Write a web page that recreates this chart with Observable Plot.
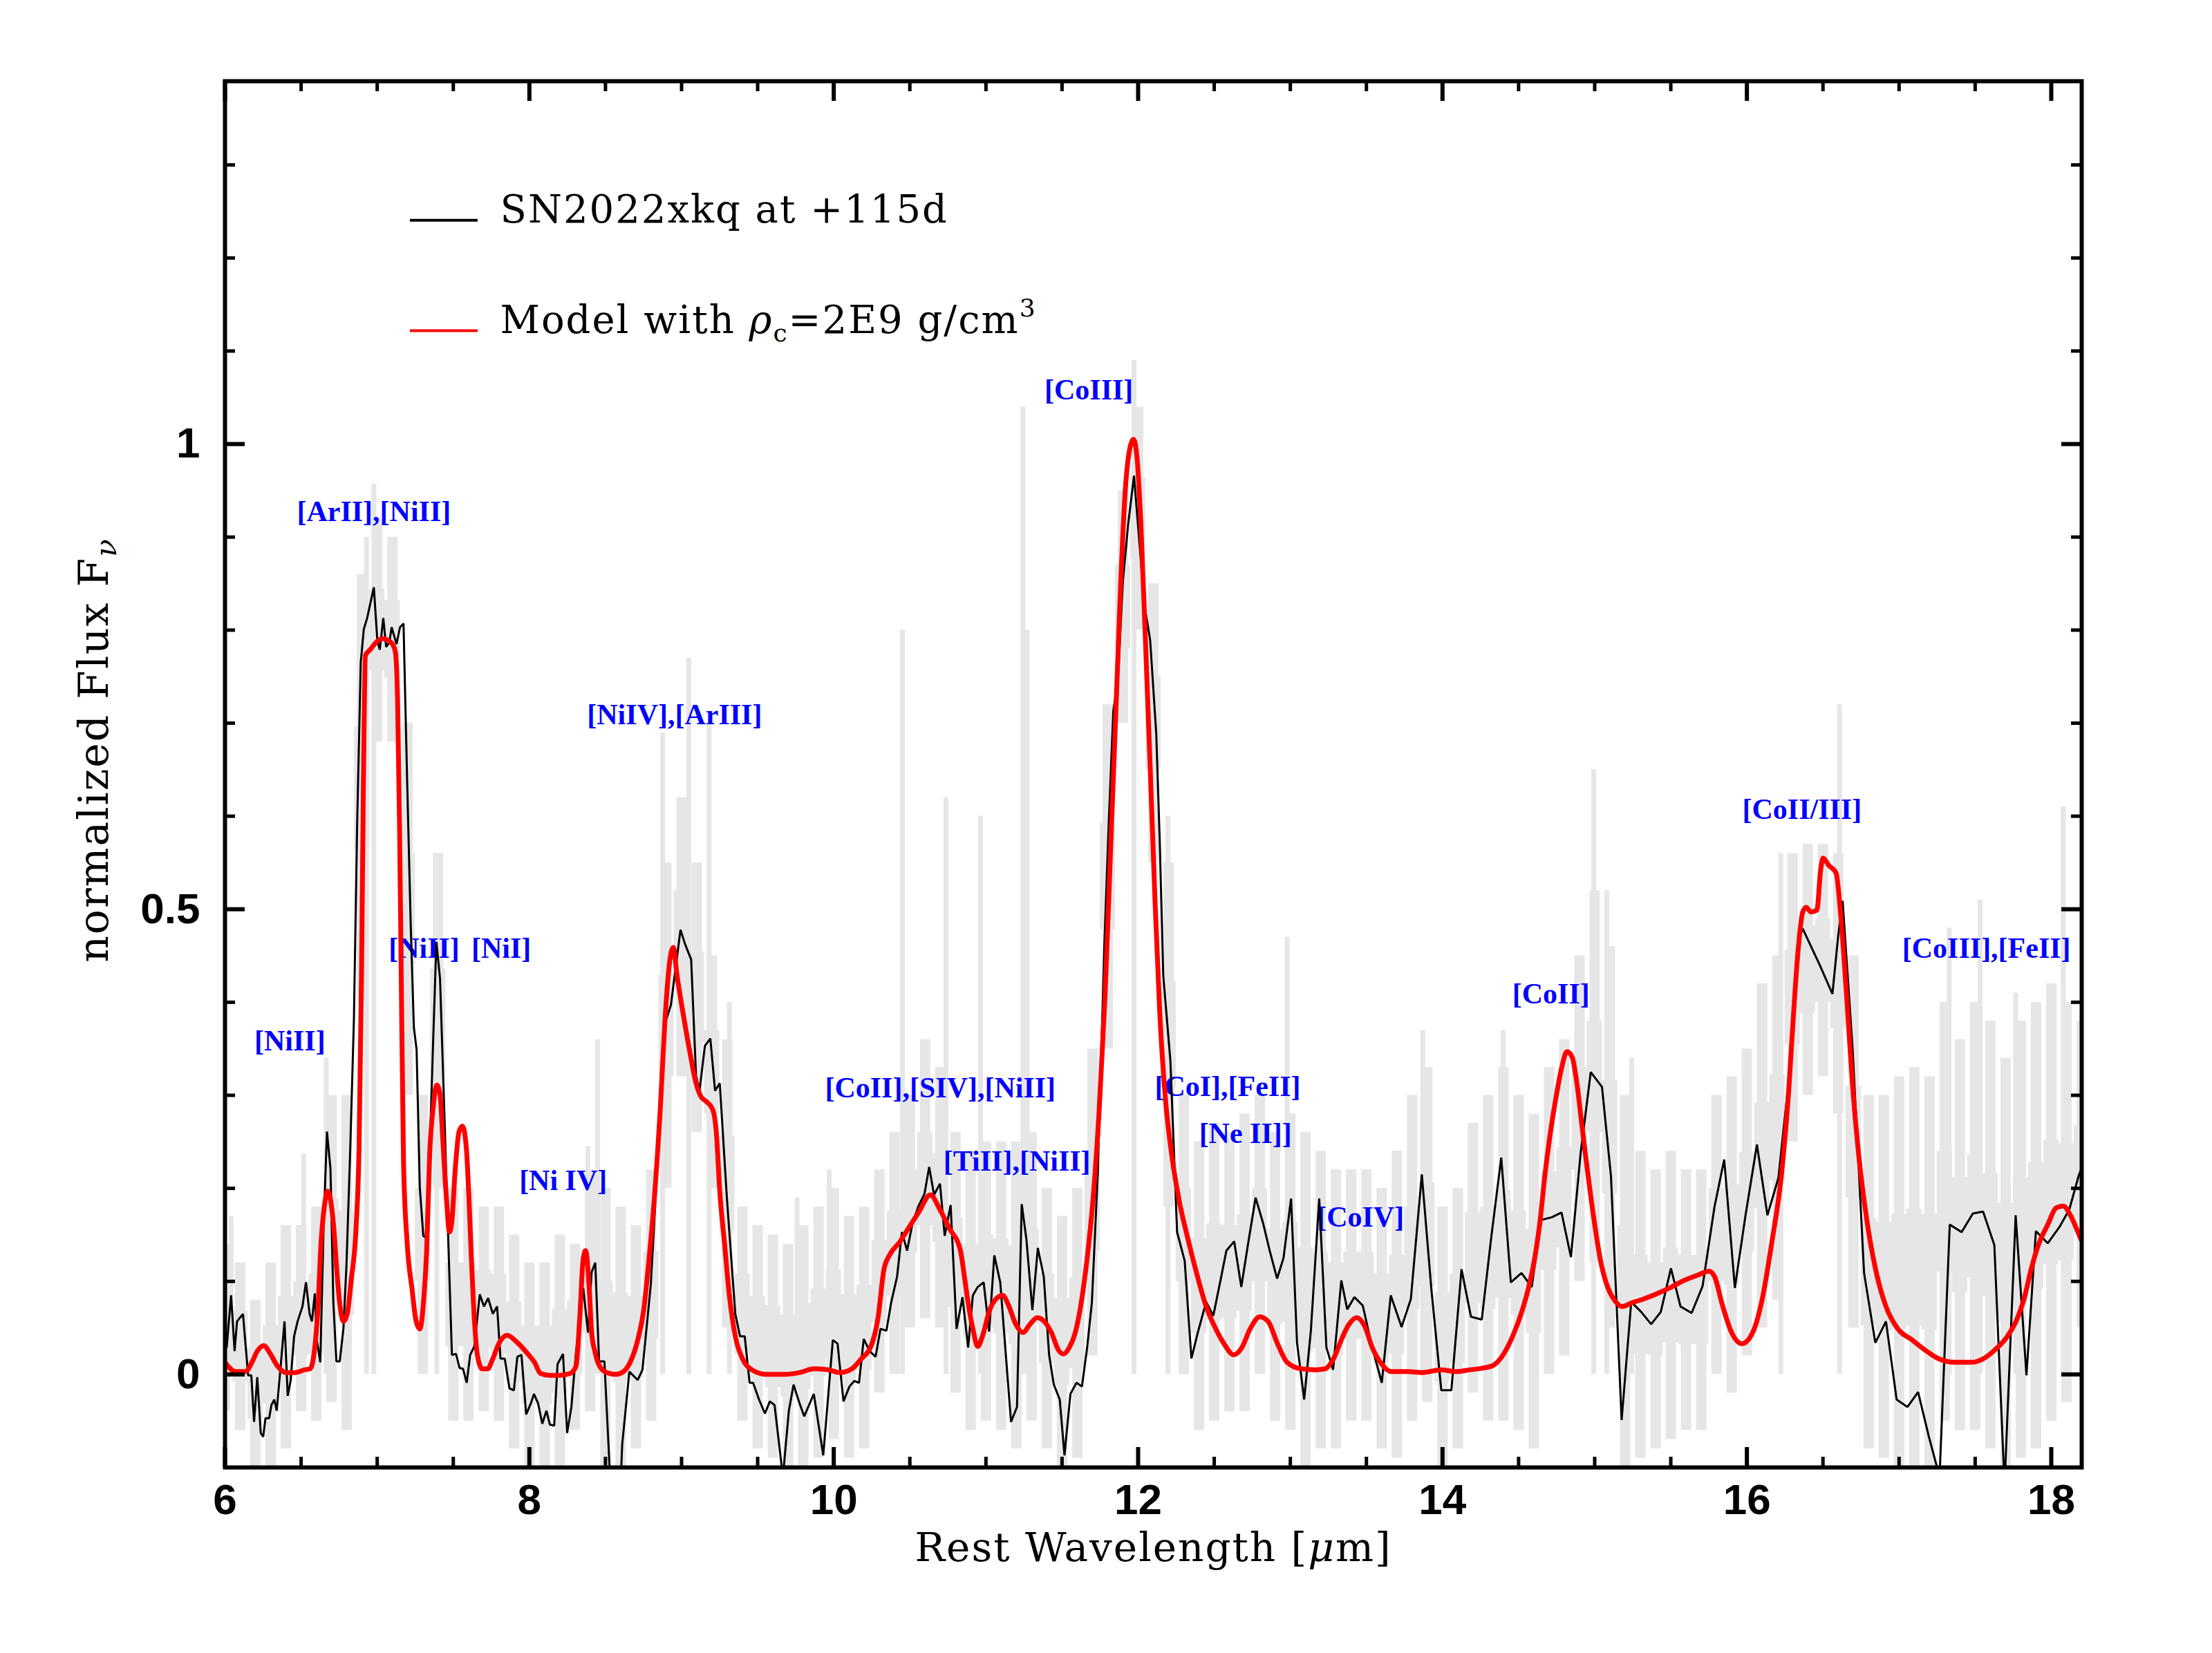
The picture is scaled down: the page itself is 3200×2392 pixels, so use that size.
<!DOCTYPE html>
<html><head><meta charset="utf-8">
<script src="https://cdn.jsdelivr.net/npm/d3@7"></script>
<script src="https://cdn.jsdelivr.net/npm/@observablehq/plot@0.6"></script>
<style>
html,body{margin:0;padding:0;background:#fff;}
#chart svg{display:block;}
</style></head><body><div id="chart"></div>
<script>
// Observed spectrum (binned, black)
const blackX = [6.011,6.040,6.063,6.079,6.118,6.152,6.173,6.191,6.212,6.235,6.251,6.266,6.290,6.305,6.324,6.340,6.368,6.391,6.412,6.431,6.454,6.477,6.509,6.532,6.556,6.571,6.590,6.603,6.626,6.649,6.670,6.693,6.712,6.732,6.754,6.778,6.798,6.822,6.847,6.868,6.892,6.912,6.934,6.978,7.001,7.017,7.040,7.059,7.080,7.095,7.127,7.150,7.173,7.197,7.220,7.241,7.259,7.280,7.303,7.319,7.338,7.369,7.389,7.413,7.439,7.463,7.491,7.518,7.541,7.564,7.588,7.611,7.638,7.674,7.702,7.729,7.760,7.788,7.810,7.838,7.869,7.898,7.921,7.948,7.979,8.010,8.030,8.057,8.085,8.112,8.135,8.163,8.185,8.221,8.248,8.276,8.307,8.354,8.385,8.409,8.433,8.458,8.493,8.539,8.594,8.610,8.657,8.712,8.743,8.798,8.837,8.891,8.930,8.993,9.024,9.063,9.095,9.118,9.153,9.189,9.220,9.251,9.298,9.353,9.384,9.415,9.447,9.470,9.509,9.548,9.580,9.611,9.666,9.705,9.736,9.775,9.806,9.869,9.931,9.994,10.025,10.064,10.103,10.135,10.166,10.197,10.236,10.275,10.307,10.346,10.377,10.416,10.448,10.482,10.518,10.557,10.596,10.627,10.659,10.698,10.729,10.768,10.807,10.846,10.883,10.914,10.946,10.985,11.021,11.055,11.094,11.125,11.165,11.204,11.235,11.266,11.305,11.341,11.380,11.415,11.446,11.485,11.516,11.555,11.595,11.631,11.665,11.696,11.735,11.778,11.806,11.837,11.868,11.900,11.934,11.973,12.009,12.040,12.079,12.119,12.142,12.165,12.212,12.256,12.306,12.350,12.392,12.447,12.494,12.541,12.580,12.631,12.678,12.725,12.772,12.822,12.866,12.913,12.955,13.005,13.044,13.091,13.135,13.190,13.237,13.281,13.335,13.374,13.421,13.476,13.538,13.601,13.660,13.731,13.792,13.864,13.926,13.992,14.058,14.125,14.187,14.258,14.320,14.386,14.449,14.519,14.586,14.649,14.719,14.782,14.844,14.907,14.974,15.048,15.107,15.177,15.240,15.306,15.371,15.434,15.501,15.564,15.637,15.709,15.787,15.851,15.921,15.991,16.066,16.135,16.207,16.273,16.343,16.367,16.476,16.562,16.601,16.629,16.695,16.770,16.844,16.914,16.984,17.055,17.125,17.196,17.266,17.333,17.411,17.485,17.552,17.626,17.693,17.766,17.837,17.899,17.977,18.056,18.118,18.181,18.200];
const blackY = [0.029,0.085,0.025,0.057,0.065,-0.001,-0.001,-0.051,-0.003,-0.063,-0.067,-0.047,-0.047,-0.033,-0.027,-0.039,0.013,0.057,-0.023,-0.007,0.041,0.057,0.073,0.099,0.065,0.057,0.087,0.037,0.013,0.165,0.261,0.221,0.077,0.014,0.014,0.049,0.117,0.237,0.381,0.589,0.765,0.801,0.813,0.846,0.789,0.779,0.813,0.782,0.787,0.803,0.785,0.803,0.807,0.637,0.485,0.373,0.349,0.201,0.149,0.147,0.205,0.365,0.465,0.425,0.293,0.165,0.021,0.022,0.007,0.006,-0.009,0.021,0.030,0.086,0.073,0.082,0.065,0.073,0.017,0.017,-0.015,-0.017,0.019,0.021,-0.043,-0.031,-0.021,-0.031,-0.053,-0.039,-0.054,-0.055,0.011,0.022,-0.063,-0.035,0.025,0.093,0.045,0.110,0.120,0.014,0.014,-0.140,-0.140,-0.075,0.003,-0.006,0.005,0.097,0.213,0.377,0.397,0.478,0.462,0.446,0.321,0.305,0.353,0.361,0.305,0.313,0.189,0.065,0.041,0.041,-0.009,-0.009,-0.027,-0.042,-0.029,-0.033,-0.110,-0.039,-0.011,-0.031,-0.045,-0.021,-0.087,0.037,0.033,-0.029,-0.013,-0.007,-0.009,0.038,0.025,0.019,0.049,0.047,0.077,0.105,0.153,0.133,0.163,0.181,0.194,0.223,0.193,0.205,0.149,0.182,0.049,0.083,0.029,0.085,0.094,0.099,0.046,0.128,0.099,0.033,-0.051,-0.035,0.183,0.145,0.069,0.136,0.105,0.021,-0.011,-0.027,-0.087,-0.021,-0.009,-0.013,0.029,0.077,0.217,0.461,0.589,0.713,0.749,0.853,0.913,0.966,0.893,0.829,0.789,0.689,0.573,0.429,0.337,0.153,0.122,0.017,0.045,0.078,0.063,0.101,0.133,0.143,0.094,0.143,0.190,0.162,0.132,0.103,0.125,0.189,0.034,-0.027,0.047,0.189,0.029,0.005,0.101,0.070,0.083,0.074,0.029,-0.009,0.085,0.051,0.081,0.215,0.093,-0.017,-0.017,0.113,0.062,0.059,0.147,0.233,0.099,0.109,0.094,0.166,0.169,0.174,0.126,0.237,0.325,0.309,0.213,-0.049,0.078,0.067,0.054,0.067,0.114,0.073,0.066,0.095,0.180,0.231,0.093,0.171,0.247,0.171,0.211,0.313,0.469,0.479,0.441,0.409,0.473,0.509,0.349,0.109,0.034,0.057,-0.027,-0.035,-0.019,-0.067,-0.110,0.161,0.153,0.173,0.175,0.139,-0.120,0.171,-0.001,0.154,0.141,0.159,0.177,0.214,0.222];

// Model spectrum (red)
const modelX = [6.000,6.071,6.133,6.180,6.212,6.255,6.298,6.345,6.399,6.462,6.524,6.559,6.587,6.610,6.631,6.653,6.673,6.696,6.715,6.736,6.756,6.778,6.803,6.829,6.861,6.881,6.897,6.909,6.923,6.954,6.994,7.033,7.072,7.100,7.119,7.134,7.147,7.158,7.173,7.197,7.228,7.256,7.280,7.306,7.325,7.345,7.369,7.392,7.413,7.431,7.455,7.475,7.491,7.513,7.538,7.560,7.585,7.603,7.619,7.638,7.658,7.690,7.726,7.760,7.799,7.854,7.916,7.995,8.034,8.073,8.135,8.198,8.268,8.307,8.331,8.354,8.370,8.393,8.409,8.430,8.461,8.508,8.571,8.618,8.665,8.712,8.751,8.782,8.821,8.860,8.891,8.923,8.946,8.970,9.009,9.056,9.095,9.126,9.165,9.204,9.228,9.251,9.282,9.314,9.353,9.400,9.462,9.556,9.681,9.775,9.869,9.963,10.041,10.119,10.182,10.244,10.291,10.330,10.369,10.432,10.494,10.557,10.635,10.698,10.760,10.831,10.862,10.883,10.914,10.946,10.977,11.024,11.071,11.110,11.149,11.196,11.243,11.290,11.337,11.383,11.430,11.477,11.509,11.548,11.587,11.626,11.665,11.704,11.743,11.782,11.821,11.853,11.884,11.915,11.943,11.970,11.993,12.017,12.048,12.079,12.111,12.142,12.181,12.220,12.267,12.322,12.384,12.447,12.510,12.572,12.627,12.682,12.736,12.799,12.854,12.916,12.979,13.073,13.166,13.229,13.284,13.335,13.382,13.437,13.491,13.538,13.601,13.663,13.773,13.867,13.992,14.086,14.180,14.273,14.336,14.398,14.461,14.524,14.571,14.610,14.641,14.672,14.703,14.743,14.782,14.818,14.852,14.883,14.915,14.954,14.993,15.040,15.087,15.134,15.180,15.243,15.321,15.399,15.493,15.587,15.681,15.751,15.788,15.835,15.897,15.968,16.038,16.101,16.163,16.226,16.273,16.304,16.335,16.367,16.390,16.421,16.460,16.484,16.500,16.539,16.586,16.617,16.656,16.695,16.734,16.789,16.851,16.914,16.992,17.086,17.164,17.258,17.368,17.477,17.555,17.634,17.712,17.774,17.821,17.868,17.915,17.977,18.032,18.079,18.126,18.165,18.196];
const modelY = [0.013,0.003,0.003,0.014,0.025,0.031,0.022,0.009,0.002,0.002,0.005,0.006,0.025,0.069,0.141,0.181,0.197,0.185,0.157,0.109,0.073,0.057,0.065,0.101,0.157,0.245,0.429,0.629,0.773,0.779,0.787,0.791,0.789,0.785,0.777,0.725,0.589,0.429,0.229,0.141,0.093,0.057,0.049,0.081,0.133,0.237,0.289,0.311,0.301,0.253,0.189,0.153,0.165,0.221,0.261,0.267,0.245,0.189,0.125,0.061,0.021,0.006,0.006,0.017,0.033,0.042,0.035,0.021,0.013,0.001,-0.001,-0.001,0.001,0.009,0.061,0.125,0.133,0.093,0.045,0.025,0.009,0.002,0.000,0.003,0.014,0.037,0.069,0.117,0.189,0.285,0.381,0.445,0.459,0.429,0.389,0.345,0.313,0.299,0.293,0.285,0.261,0.197,0.141,0.085,0.041,0.017,0.005,0.000,0.000,0.002,0.006,0.005,0.002,0.006,0.017,0.030,0.061,0.113,0.129,0.142,0.158,0.174,0.193,0.177,0.157,0.134,0.101,0.077,0.049,0.030,0.041,0.069,0.082,0.085,0.074,0.054,0.045,0.054,0.061,0.057,0.045,0.026,0.022,0.029,0.045,0.077,0.125,0.189,0.281,0.405,0.573,0.709,0.845,0.949,0.993,1.005,0.985,0.917,0.789,0.653,0.509,0.389,0.293,0.237,0.189,0.149,0.109,0.073,0.049,0.031,0.021,0.029,0.049,0.062,0.057,0.033,0.013,0.006,0.005,0.006,0.017,0.037,0.053,0.061,0.051,0.029,0.011,0.003,0.003,0.002,0.005,0.003,0.005,0.007,0.010,0.021,0.041,0.069,0.097,0.129,0.165,0.213,0.253,0.295,0.329,0.347,0.341,0.313,0.269,0.217,0.169,0.121,0.093,0.079,0.073,0.077,0.081,0.086,0.093,0.101,0.107,0.111,0.105,0.077,0.046,0.033,0.045,0.081,0.141,0.213,0.301,0.381,0.453,0.497,0.502,0.497,0.499,0.541,0.555,0.547,0.539,0.493,0.405,0.309,0.237,0.165,0.109,0.073,0.049,0.037,0.027,0.017,0.013,0.013,0.017,0.027,0.041,0.059,0.081,0.113,0.139,0.161,0.179,0.181,0.171,0.157,0.145];

// High-resolution spectrum (light grey): envelope per 0.1 um bin, plus narrow spikes
const greyX  = [6.0,6.1,6.2,6.3,6.4,6.5,6.6,6.7,6.8,6.9,7.0,7.1,7.2,7.3,7.4,7.5,7.6,7.7,7.8,7.9,8.0,8.1,8.2,8.3,8.4,8.5,8.6,8.7,8.8,8.9,9.0,9.1,9.2,9.3,9.4,9.5,9.6,9.7,9.8,9.9,10.0,10.1,10.2,10.3,10.4,10.5,10.6,10.7,10.8,10.9,11.0,11.1,11.2,11.3,11.4,11.5,11.6,11.7,11.8,11.9,12.0,12.1,12.2,12.3,12.4,12.5,12.6,12.7,12.8,12.9,13.0,13.1,13.2,13.3,13.4,13.5,13.6,13.7,13.8,13.9,14.0,14.1,14.2,14.3,14.4,14.5,14.6,14.7,14.8,14.9,15.0,15.1,15.2,15.3,15.4,15.5,15.6,15.7,15.8,15.9,16.0,16.1,16.2,16.3,16.4,16.5,16.6,16.7,16.8,16.9,17.0,17.1,17.2,17.3,17.4,17.5,17.6,17.7,17.8,17.9,18.0,18.1,18.2];
const greyHi = [0.14,0.12,0.08,0.12,0.16,0.16,0.18,0.30,0.30,0.86,0.92,0.90,0.70,0.30,0.56,0.20,0.20,0.18,0.18,0.15,0.12,0.12,0.15,0.14,0.22,0.20,0.18,0.16,0.22,0.55,0.62,0.55,0.45,0.36,0.18,0.16,0.15,0.14,0.16,0.18,0.20,0.17,0.18,0.22,0.26,0.30,0.36,0.33,0.26,0.24,0.25,0.25,0.25,0.26,0.20,0.17,0.20,0.35,0.72,0.95,1.04,0.85,0.55,0.30,0.25,0.27,0.26,0.28,0.30,0.26,0.28,0.26,0.24,0.22,0.22,0.22,0.20,0.24,0.30,0.33,0.18,0.20,0.27,0.30,0.33,0.30,0.28,0.33,0.36,0.45,0.52,0.46,0.30,0.24,0.22,0.24,0.22,0.22,0.30,0.32,0.35,0.42,0.45,0.56,0.57,0.57,0.56,0.45,0.30,0.30,0.32,0.33,0.32,0.40,0.36,0.40,0.38,0.34,0.38,0.40,0.42,0.40,0.38];
const greyLo = [-0.04,-0.06,-0.10,-0.10,-0.08,-0.04,-0.05,-0.03,-0.06,0.40,0.68,0.68,0.30,0.00,0.20,-0.05,-0.05,-0.04,-0.05,-0.08,-0.10,-0.10,-0.10,-0.06,-0.04,-0.10,-0.10,-0.08,-0.05,0.20,0.32,0.26,0.20,0.05,-0.05,-0.08,-0.09,-0.10,-0.10,-0.09,-0.07,-0.09,-0.08,-0.02,0.00,0.05,0.06,0.05,-0.02,-0.06,-0.05,-0.06,-0.08,-0.05,-0.08,-0.10,-0.09,0.02,0.35,0.70,0.80,0.55,0.18,0.00,-0.06,-0.05,-0.04,-0.04,0.00,-0.05,-0.06,-0.10,-0.08,-0.08,-0.05,-0.05,-0.08,-0.09,-0.05,-0.03,-0.10,-0.08,-0.02,-0.05,-0.05,-0.06,-0.08,0.00,0.02,0.10,0.12,0.05,-0.10,-0.09,-0.08,-0.07,-0.06,-0.06,0.00,-0.02,0.02,0.05,0.08,0.25,0.30,0.32,0.28,0.05,-0.08,-0.09,-0.10,-0.10,-0.10,-0.05,-0.06,-0.06,-0.08,-0.10,-0.09,-0.08,-0.05,-0.03,0.05];
const spikeX   = [6.04,6.517,6.665,6.93,6.978,7.392,8.385,8.449,8.876,9.048,9.181,9.314,9.759,9.97,10.452,10.737,10.964,11.243,11.271,11.973,12.196,12.979,13.789,13.87,14.398,14.993,15.079,15.243,16.223,16.609,17.329,17.532,17.766,18.079];
const spikeTop = [0.17,0.237,0.34,0.90,0.957,0.56,0.245,0.36,0.69,0.77,0.70,0.40,0.19,0.22,0.80,0.62,0.60,1.04,0.80,1.09,0.60,0.47,0.29,0.37,0.37,0.65,0.52,0.34,0.56,0.72,0.48,0.51,0.41,0.61];

// Line identifications
const lineLabels = ["[NiII]","[ArII],[NiII]","[NiII]","[NiI]","[Ni IV]","[NiIV],[ArIII]","[CoII],[SIV],[NiII]","[TiII],[NiII]","[CoIII]","[CoI],[FeII]","[Ne II]]","[CoIV]","[CoII]","[CoII/III]","[CoIII],[FeII]"];
const lineLabelX = [6.426,6.978,7.308,7.815,8.222,8.954,10.70,11.204,11.676,12.588,12.705,13.461,14.713,16.362,17.574];
const lineLabelY = [0.358,0.927,0.458,0.458,0.208,0.709,0.308,0.229,1.058,0.309,0.259,0.169,0.409,0.607,0.458];

// Axes
const xMajor = [6,8,10,12,14,16,18];
const xMajorLabels = ["6","8","10","12","14","16","18"];
const xMinor = [6.5,7,7.5,8.5,9,9.5,10.5,11,11.5,12.5,13,13.5,14.5,15,15.5,16.5,17,17.5];
const yMajor = [0,0.5,1];
const yMajorLabels = ["0","0.5","1"];
const yMinor = [0.1,0.2,0.3,0.4,0.6,0.7,0.8,0.9,1.1,1.2,1.3];
const xDomain = [6, 18.2];
const yDomain = [-0.1, 1.39];

// Legend
const legendLabels = ["SN2022xkq at +115d", "Model with \u03C1c=2E9 g/cm3"];
const legendColors = ["black", "#ff0000"];
const legendLineX1 = 7.217, legendLineX2 = 7.662, legendTextX = 7.808;
const legendLineY = [1.2405, 1.1218];

const W = 3200, H = 2392;
const mL = 325, mR = 189, mT = 117, mB = 269;
const innerW = W - mL - mR, innerH = H - mT - mB;
const majorLen = 29, minorLen = 15;

const black = blackX.map((x, i) => ({x, y: blackY[i]}));
const model = modelX.map((x, i) => ({x, y: modelY[i]}));
const grey = greyX.map((x, i) => ({x, hi: greyHi[i], lo: greyLo[i]}));
const spikes = spikeX.map((x, i) => ({x, top: spikeTop[i]}));
const labels = lineLabels.map((t, i) => ({t, x: lineLabelX[i], y: lineLabelY[i]}));
const legend = legendLabels.map((t, i) => ({t, c: legendColors[i], y: legendLineY[i]}));

const GREY = "#e6e6e6";
const serif = "DejaVu Serif";

const plot = Plot.plot({
  width: W, height: H,
  marginLeft: mL, marginRight: mR, marginTop: mT, marginBottom: mB,
  x: {domain: xDomain, axis: null},
  y: {domain: yDomain, axis: null},
  style: {background: "white"},
  marks: [
    Plot.ruleX(grey, {x: "x", y1: "lo", y2: "hi", stroke: GREY, strokeWidth: 15, clip: true}),
    Plot.areaY(grey, {x: "x", y1: d => d.lo * 0.6 + d.hi * 0.4 - 0.02, y2: d => d.lo * 0.4 + d.hi * 0.6 + 0.02, fill: GREY, curve: "step", clip: true}),
    Plot.ruleX(spikes, {x: "x", y1: 0, y2: "top", stroke: GREY, strokeWidth: 7, clip: true}),
    Plot.text(labels, {x: "x", y: "y", text: "t", fill: "#0000ff", fontFamily: "Liberation Serif", fontWeight: "bold", fontSize: 42, textAnchor: "middle", lineAnchor: "middle"}),
    Plot.line(black, {x: "x", y: "y", stroke: "black", strokeWidth: 3, strokeLinejoin: "miter", clip: true}),
    Plot.line(model, {x: "x", y: "y", stroke: "#ff0000", strokeWidth: 7, curve: "monotone-x", clip: true}),
    // legend
    Plot.ruleY([legend[0]], {y: "y", x1: () => legendLineX1, x2: () => legendLineX2, stroke: legendColors[0], strokeWidth: 4}),
    Plot.ruleY([legend[1]], {y: "y", x1: () => legendLineX1, x2: () => legendLineX2, stroke: legendColors[1], strokeWidth: 4}),
    Plot.text(legend, {x: () => legendTextX, y: "y", text: "t", fill: "black", fontFamily: serif, fontSize: 56, textAnchor: "start", lineAnchor: "bottom", dy: 3}),
    // axis titles
    Plot.text(["Rest Wavelength [\u03BCm]"], {frameAnchor: "bottom", text: d => d, dy: 135, lineAnchor: "bottom", fontFamily: serif, fontSize: 58, fill: "black"}),
    Plot.text(["normalized Flux F\u03BD"], {frameAnchor: "left", text: d => d, rotate: -90, dx: -170, dy: -35, lineAnchor: "bottom", textAnchor: "middle", fontFamily: serif, fontSize: 60, fill: "black"}),
    // tick labels
    Plot.text(xMajor, {x: d => d, frameAnchor: "bottom", text: (d, i) => xMajorLabels[i], dy: 67, lineAnchor: "bottom", fontFamily: "Liberation Sans", fontWeight: "bold", fontSize: 62, fill: "black"}),
    Plot.text(yMajor, {y: d => d, frameAnchor: "left", text: (d, i) => yMajorLabels[i], dx: -36, textAnchor: "end", lineAnchor: "middle", fontFamily: "Liberation Sans", fontWeight: "bold", fontSize: 62, fill: "black"}),
    // ticks (inward, all four sides)
    Plot.tickX(xMajor, {x: d => d, insetTop: innerH - majorLen, stroke: "black", strokeWidth: 6}),
    Plot.tickX(xMajor, {x: d => d, insetBottom: innerH - majorLen, stroke: "black", strokeWidth: 6}),
    Plot.tickX(xMinor, {x: d => d, insetTop: innerH - minorLen, stroke: "black", strokeWidth: 5}),
    Plot.tickX(xMinor, {x: d => d, insetBottom: innerH - minorLen, stroke: "black", strokeWidth: 5}),
    Plot.tickY(yMajor, {y: d => d, insetRight: innerW - majorLen, stroke: "black", strokeWidth: 6}),
    Plot.tickY(yMajor, {y: d => d, insetLeft: innerW - majorLen, stroke: "black", strokeWidth: 6}),
    Plot.tickY(yMinor, {y: d => d, insetRight: innerW - minorLen, stroke: "black", strokeWidth: 5}),
    Plot.tickY(yMinor, {y: d => d, insetLeft: innerW - minorLen, stroke: "black", strokeWidth: 5}),
    Plot.frame({stroke: "black", strokeWidth: 6})
  ]
});

document.getElementById("chart").appendChild(plot);

// rich text: sub/superscripts and spacing
d3.select(plot).selectAll("text").each(function() {
  const t = this.textContent;
  const s = d3.select(this);
  if (t === legendLabels[1]) {
    s.text(null).attr("letter-spacing", "2px");
    s.append("tspan").text("Model with ");
    s.append("tspan").attr("font-style", "italic").text("\u03C1");
    s.append("tspan").attr("font-size", 36).attr("dy", "12px").text("c");
    s.append("tspan").attr("dy", "-12px").text("=2E9 g/cm");
    s.append("tspan").attr("font-size", 36).attr("dy", "-24px").text("3");
  } else if (t === legendLabels[0]) {
    s.attr("letter-spacing", "2px");
  } else if (t === "Rest Wavelength [\u03BCm]") {
    s.text(null).attr("letter-spacing", "2px");
    s.append("tspan").text("Rest Wavelength [");
    s.append("tspan").attr("font-style", "italic").text("\u03BC");
    s.append("tspan").text("m]");
  } else if (t === "normalized Flux F\u03BD") {
    s.text(null).attr("letter-spacing", "2px");
    s.append("tspan").text("normalized Flux F");
    s.append("tspan").attr("font-size", 42).attr("font-style", "italic").attr("dy", "12px").text("\u03BD");
  }
});
</script>
</body></html>
